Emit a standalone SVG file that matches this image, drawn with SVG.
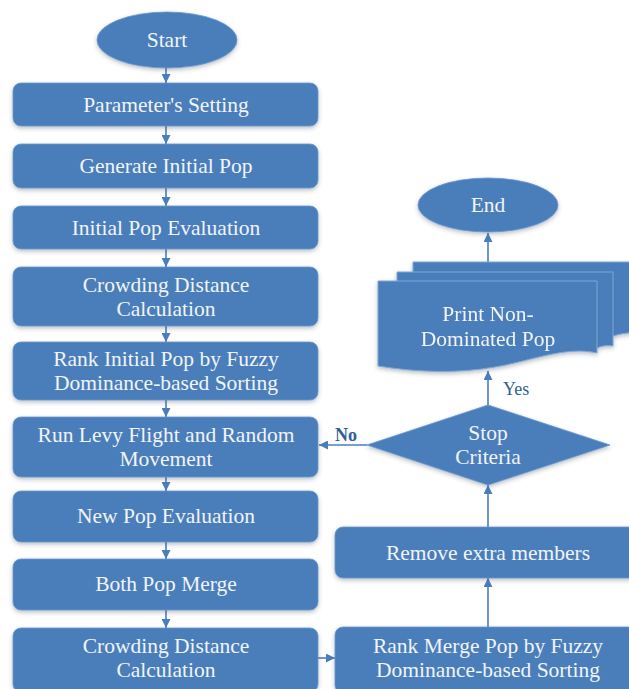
<svg xmlns="http://www.w3.org/2000/svg" width="629" height="689" viewBox="0 0 629 689">
  <defs>
    <filter id="shadow" x="-10%" y="-20%" width="120%" height="150%">
      <feDropShadow dx="0" dy="2" stdDeviation="2" flood-color="#3a4a5c" flood-opacity="0.35"/>
    </filter>
    <marker id="arrow" viewBox="0 0 10 10" refX="10" refY="5" markerWidth="9" markerHeight="9" markerUnits="userSpaceOnUse" orient="auto">
      <path d="M0,0 L10,5 L0,10 Z" fill="#4A7EBB"/>
    </marker>
  </defs>
  <style>
    .shape { fill: #4A7EBB; stroke: #6b97cb; stroke-width: 0.8; filter: url(#shadow); }
    .layer { fill: #4A7EBB; stroke: #7fa6d4; stroke-width: 1; }
    .label { font-family: "Liberation Serif", "Times New Roman", serif; font-size: 21.5px; fill: #f2f4f7; text-anchor: middle; }
    .edge { stroke: #4A7EBB; stroke-width: 1.6; fill: none; marker-end: url(#arrow); }
    .tag { font-family: "Liberation Serif", "Times New Roman", serif; font-size: 18px; fill: #2f5f96; }
  </style>
  <rect width="629" height="689" fill="#ffffff"/>

  <!-- connectors -->
  <g id="connectors">
    <line class="edge" x1="166" y1="68" x2="166" y2="83"/>
    <line class="edge" x1="166" y1="126" x2="166" y2="144"/>
    <line class="edge" x1="166" y1="188" x2="166" y2="206"/>
    <line class="edge" x1="166" y1="249" x2="166" y2="267"/>
    <line class="edge" x1="166" y1="326" x2="166" y2="342"/>
    <line class="edge" x1="166" y1="400" x2="166" y2="417"/>
    <line class="edge" x1="166" y1="477" x2="166" y2="491"/>
    <line class="edge" x1="166" y1="542" x2="166" y2="559"/>
    <line class="edge" x1="166" y1="610" x2="166" y2="628"/>
    <line class="edge" x1="318" y1="658" x2="335" y2="658"/>
    <line class="edge" x1="488" y1="627" x2="488" y2="578"/>
    <line class="edge" x1="488" y1="527" x2="488" y2="485"/>
    <line class="edge" x1="488" y1="405" x2="488" y2="371"/>
    <line class="edge" x1="488" y1="262" x2="488" y2="233"/>
    <line class="edge" x1="367" y1="445" x2="319" y2="445"/>
    <text class="tag" x="503" y="395">Yes</text>
    <text class="tag" x="335" y="441" font-weight="bold">No</text>
  </g>

  <g id="start">
    <ellipse class="shape" cx="167" cy="40" rx="70" ry="28"/>
    <text class="label" x="167" y="47">Start</text>
  </g>

  <g id="param-setting">
    <rect class="shape" x="13" y="83" width="305" height="43" rx="8"/>
    <text class="label" x="166" y="112">Parameter's Setting</text>
  </g>

  <g id="generate-pop">
    <rect class="shape" x="13" y="144" width="305" height="44" rx="8"/>
    <text class="label" x="166" y="173">Generate Initial Pop</text>
  </g>

  <g id="initial-eval">
    <rect class="shape" x="13" y="206" width="305" height="43" rx="8"/>
    <text class="label" x="166" y="235">Initial Pop Evaluation</text>
  </g>

  <g id="crowding-1">
    <rect class="shape" x="13" y="267" width="305" height="59" rx="8"/>
    <text class="label" x="166" y="292">Crowding Distance</text>
    <text class="label" x="166" y="316">Calculation</text>
  </g>

  <g id="rank-initial">
    <rect class="shape" x="13" y="342" width="305" height="58" rx="8"/>
    <text class="label" x="166" y="366">Rank Initial Pop by Fuzzy</text>
    <text class="label" x="166" y="390">Dominance-based Sorting</text>
  </g>

  <g id="levy-flight">
    <rect class="shape" x="13" y="417" width="305" height="60" rx="8"/>
    <text class="label" x="166" y="442">Run Levy Flight and Random</text>
    <text class="label" x="166" y="466">Movement</text>
  </g>

  <g id="new-eval">
    <rect class="shape" x="13" y="491" width="305" height="51" rx="8"/>
    <text class="label" x="166" y="523">New Pop Evaluation</text>
  </g>

  <g id="merge">
    <rect class="shape" x="13" y="559" width="305" height="51" rx="8"/>
    <text class="label" x="166" y="591">Both Pop Merge</text>
  </g>

  <g id="crowding-2">
    <rect class="shape" x="13" y="628" width="305" height="64" rx="8"/>
    <text class="label" x="166" y="653">Crowding Distance</text>
    <text class="label" x="166" y="677">Calculation</text>
  </g>

  <g id="rank-merge">
    <rect class="shape" x="335" y="627" width="310" height="66" rx="8"/>
    <text class="label" x="488" y="653">Rank Merge  Pop by Fuzzy</text>
    <text class="label" x="488" y="677">Dominance-based Sorting</text>
  </g>

  <g id="remove-extra">
    <rect class="shape" x="335" y="527" width="310" height="51" rx="8"/>
    <text class="label" x="488" y="560">Remove extra members</text>
  </g>

  <g id="stop-criteria">
    <polygon class="shape" points="488,405 610,445 488,485 367,445"/>
    <text class="label" x="488" y="440">Stop</text>
    <text class="label" x="488" y="464">Criteria</text>
  </g>

  <g id="print-result" filter="url(#shadow)">
    <path class="layer" d="M413,262 H640 V333 C628,332 620,334 613,336 L413,336 Z"/>
    <path class="layer" d="M397,272 H613 V346 C606,345 601,346 597,348 L397,348 Z"/>
    <path class="layer" d="M378,281 H597 V353 C565,346 535,360 495,367 C455,374 415,372 378,366 Z"/>
    <text class="label" x="488" y="321">Print Non-</text>
    <text class="label" x="488" y="346">Dominated Pop</text>
  </g>

  <g id="end">
    <ellipse class="shape" cx="488" cy="205" rx="70" ry="27"/>
    <text class="label" x="488" y="212">End</text>
  </g>
</svg>
